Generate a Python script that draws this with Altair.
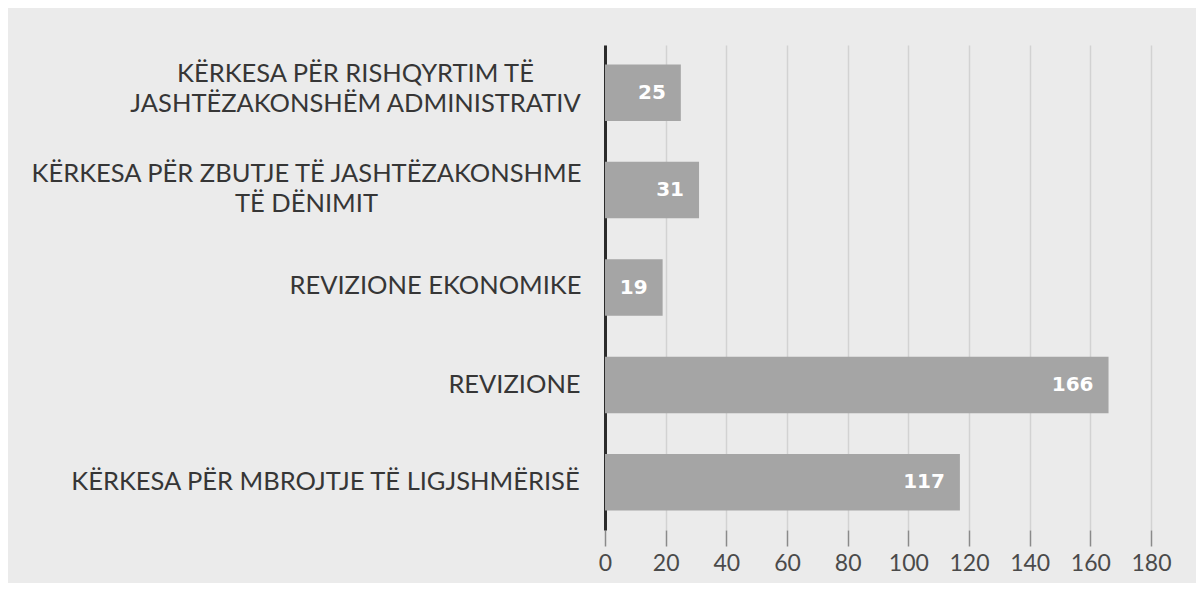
import altair as alt
import pandas as pd

# ---- data ----
categories = [
    "KËRKESA PËR RISHQYRTIM TË|JASHTËZAKONSHËM ADMINISTRATIV",
    "KËRKESA PËR ZBUTJE TË JASHTËZAKONSHME|TË DËNIMIT",
    "REVIZIONE EKONOMIKE",
    "REVIZIONE",
    "KËRKESA PËR MBROJTJE TË LIGJSHMËRISË",
]
values = [25, 31, 19, 166, 117]
x_ticks = [0, 20, 40, 60, 80, 100, 120, 140, 160, 180]

# ---- styling (centred multi-line labels, like the original) ----
label_offsets = [250, 299, 170, 91, 280]   # distance of each label centre from the axis
label_shift = [-19, -16, -2, 0, 0]         # vertical nudge (multi-line blocks centred)
FONT = "Lato"
TEXT = "#363636"
BAR = "#a5a5a5"
BG = "#ebebeb"

df = pd.DataFrame({"category": categories, "value": values})


def per_label(vals, default):
    return {
        "condition": [
            {"test": f"datum.value === '{c}'", "value": v}
            for c, v in zip(categories, vals)
        ],
        "value": default,
    }


y_enc = alt.Y(
    "category:N",
    sort=categories,
    title=None,
    scale=alt.Scale(paddingInner=0.42, paddingOuter=0.2),
    axis=alt.Axis(
        labelExpr="split(datum.label, '|')",
        labelAlign="center",
        labelBaseline="middle",
        labelPadding=per_label(label_offsets, 100),
        labelOffset=per_label(label_shift, 0),
        labelFont=FONT,
        labelFontSize=25.5,
        labelLineHeight=30,
        labelColor=TEXT,
        labelLimit=800,
        ticks=False,
        tickSize=0,
        domain=True,
        domainColor="#2b2b2b",
        domainWidth=3,
        grid=False,
    ),
)

x_enc = alt.X(
    "value:Q",
    title=None,
    scale=alt.Scale(domain=[0, 180], nice=False, zero=True),
    axis=alt.Axis(
        values=x_ticks,
        labelFont=FONT,
        labelFontSize=23,
        labelColor="#4a4a4a",
        labelPadding=6,
        labelOverlap=False,
        labelFlush=False,
        domain=False,
        ticks=True,
        tickSize=16,
        tickColor="#8a8a8a",
        tickWidth=1.5,
        grid=True,
        gridColor="#d2d2d2",
        gridWidth=1.5,
    ),
)

bars = alt.Chart(df).mark_bar(color=BAR).encode(y=y_enc, x=x_enc)

labels = alt.Chart(df).mark_text(
    align="right",
    baseline="middle",
    dx=-15,
    font="DejaVu Sans",
    fontSize=20,
    fontWeight="bold",
    color="white",
).encode(y=alt.Y("category:N", sort=categories), x=alt.X("value:Q"), text="value:Q")

chart = (
    alt.layer(bars, labels)
    .properties(
        width=546,
        height=485,
        autosize=alt.AutoSizeParams(type="none"),
        padding={"left": 597, "top": 37, "right": 45, "bottom": 53},
        background=BG,
    )
    .configure_view(stroke=None)
)

chart.save("out.html", embed_options={"renderer": "svg", "actions": False})
